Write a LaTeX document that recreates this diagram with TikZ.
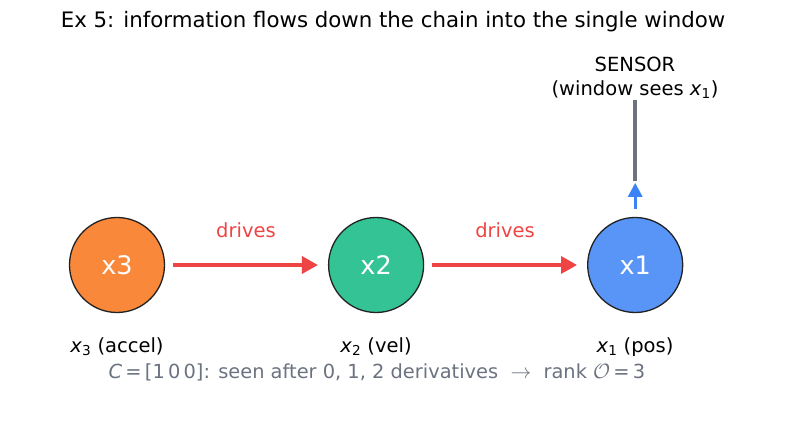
\documentclass[tikz,border=0pt]{standalone}
\usepackage{fontspec}
\setmainfont{DejaVu Sans}
\usetikzlibrary{arrows.meta,positioning,calc}
\definecolor{orange}{RGB}{250,136,58}
\definecolor{green}{RGB}{52,195,148}
\definecolor{blue}{RGB}{88,149,247}
\definecolor{red}{RGB}{239,68,68}
\definecolor{arrowblue}{RGB}{59,130,246}
\definecolor{slate}{RGB}{107,114,128}
\definecolor{edge}{RGB}{34,34,34}

\begin{document}
\begin{tikzpicture}[x=1pt,y=-1pt, node distance=162.8pt, every node/.style={align=center,inner sep=0pt,font=\fontsize{19.5}{24}\selectfont}]
  \useasboundingbox (0,0) rectangle (787,435);
  \node at (393,22) {\fontsize{21.3}{25}\selectfont Ex 5: information flows down the chain into the single window};
  \node[circle,draw=edge,line width=1.3pt,fill=orange,minimum size=95pt,text=white] (x3) at (117,265)
    {\fontsize{25.5}{30}\selectfont x3};
  \node[circle,draw=edge,line width=1.3pt,fill=green,minimum size=95pt,text=white,right=of x3] (x2)
    {\fontsize{25.5}{30}\selectfont x2};
  \node[circle,draw=edge,line width=1.3pt,fill=blue,minimum size=95pt,text=white,right=of x2] (x1)
    {\fontsize{25.5}{30}\selectfont x1};
  \foreach \x/\y in {x3/x2,x2/x1}{\draw[-{Triangle[length=16pt,width=17pt]},line width=3.4pt,red,shorten <=8pt,shorten >=10pt] (\x)--(\y);}
  \node[text=red] (d1) at (246,230) {drives};
  \node[text=red] (d2) at (505,230) {drives};
  \node (sensor) at (635,78) {SENSOR\\(window sees \textit{x}\textsubscript{1})};
  \coordinate (top) at ($(x1.north)+(0,-117)$);
  \coordinate (bot) at ($(x1.north)+(0,-36)$);
  \draw[line width=3.6pt,slate] (top)--(bot);
  \draw[-{Triangle[length=14pt,width=14pt]},line width=3pt,arrowblue,shorten <=7.5pt,shorten >=2pt] (x1.north)--(bot);
  \node (l3) at (117,347) {\textit{x}\textsubscript{3} (accel)};
  \node (l2) at (376,347) {\textit{x}\textsubscript{2} (vel)};
  \node (l1) at (635,347) {\textit{x}\textsubscript{1} (pos)};
  \node[text=slate] (cap) at (377,372) {\fontsize{19.4}{24}\selectfont\textit{C}\,=\,[1\,0\,0]: seen after 0, 1, 2 derivatives ~$\rightarrow$~ rank $\mathcal{O}$\,=\,3};
\end{tikzpicture}
\end{document}
